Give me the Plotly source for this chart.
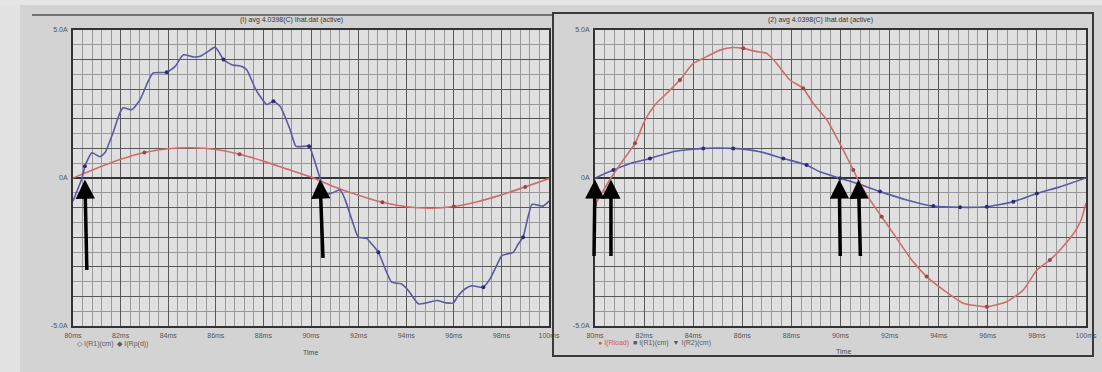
import plotly.graph_objects as go

W, H = 1102, 372

# ---- left panel: load current with ripple (blue) and source current (red) ----
t_blue_l = [80.0, 80.38, 80.50, 80.79, 81.13, 81.34, 81.68, 81.97, 82.11, 82.47,
            82.82, 83.16, 83.37, 83.94, 84.29, 84.64, 85.05, 85.34, 85.68, 85.97,
            86.11, 86.32, 86.67, 87.09, 87.30, 87.65, 87.86, 88.14, 88.42, 88.70,
            89.12, 89.37, 89.92, 90.13, 90.38, 90.66, 90.94, 91.22, 91.43, 91.71,
            91.99, 92.34, 92.55, 92.83, 93.18, 93.39, 93.81, 94.09, 94.51, 94.86,
            95.28, 95.70, 95.98, 96.19, 96.47, 96.75, 97.24, 97.52, 97.80, 98.01,
            98.22, 98.50, 98.71, 98.91, 99.29, 99.75, 100.0]
i_blue_l = [-0.78, 0.00, 0.40, 0.85, 0.72, 0.85, 1.53, 2.20, 2.37, 2.31,
            2.65, 3.27, 3.55, 3.57, 3.77, 4.16, 4.09, 4.11, 4.28, 4.42,
            4.28, 4.00, 3.83, 3.77, 3.66, 3.04, 2.76, 2.48, 2.59, 2.42,
            1.64, 1.07, 1.07, 0.63, 0.00, -0.55, -0.49, -0.40, -0.72, -1.39,
            -2.00, -2.04, -2.23, -2.51, -3.19, -3.52, -3.58, -3.80, -4.25, -4.22,
            -4.14, -4.22, -4.22, -3.97, -3.75, -3.64, -3.69, -3.41, -2.96, -2.63,
            -2.57, -2.51, -2.23, -2.00, -0.89, -0.95, -0.78]
mark_blue_l = [2, 13, 21, 28, 32, 43, 56, 63]

t_red_l = [80, 81, 82, 83, 84, 85, 86, 87, 88, 89, 90,
           91, 92, 93, 94, 95, 96, 97, 98, 99, 100]
i_red_l = [0.00, 0.33, 0.63, 0.86, 0.99, 1.02, 0.96, 0.80, 0.57, 0.30, 0.03,
           -0.30, -0.58, -0.82, -0.97, -1.02, -0.96, -0.80, -0.57, -0.30, -0.02]
mark_red_l = [3, 7, 13, 16, 19]

# ---- right panel: compensated line current (red) and reference (blue) ----
t_red_r = [80.0, 80.65, 81.15, 81.63, 82.04, 82.44, 82.92, 83.46, 84.00, 84.55,
           85.09, 85.63, 86.04, 86.59, 87.00, 87.40, 87.94, 88.48, 88.89, 89.45,
           89.90, 90.11, 90.52, 90.79, 91.20, 91.68, 92.29, 92.90, 93.51, 94.19,
           95.00, 95.96, 96.77, 97.45, 98.00, 98.53, 98.94, 99.51, 99.80, 100.0]
i_red_r = [-0.90, 0.00, 0.61, 1.17, 1.96, 2.47, 2.86, 3.31, 3.87, 4.10,
           4.32, 4.41, 4.38, 4.27, 4.21, 3.87, 3.31, 3.03, 2.52, 1.96,
           1.28, 0.95, 0.27, -0.18, -0.74, -1.31, -2.04, -2.77, -3.33, -3.78,
           -4.23, -4.35, -4.18, -3.78, -3.11, -2.77, -2.43, -1.86, -1.42, -0.84]
mark_red_r = [0, 3, 7, 12, 17, 22, 25, 28, 31, 35]

t_blue_r = [80.0, 80.75, 81.43, 82.24, 83.19, 84.41, 85.63, 86.72, 87.67, 88.62,
            89.16, 89.98, 90.66, 91.61, 92.70, 93.78, 94.87, 95.96, 97.04, 98.00,
            98.94, 100.0]
i_blue_r = [0.00, 0.27, 0.49, 0.66, 0.89, 1.00, 1.00, 0.89, 0.66, 0.44,
            0.21, -0.01, -0.18, -0.46, -0.74, -0.95, -0.99, -0.97, -0.80, -0.52,
            -0.30, 0.00]
mark_blue_r = [1, 3, 5, 6, 8, 9, 11, 13, 15, 16, 17, 18, 19]

# axis ticks
x_ticks = list(range(80, 101, 2))
x_labels = [f"{v}ms" for v in x_ticks]
y_ticks = list(range(-5, 6))
y_labels = ["-5.0A" if v == -5 else "5.0A" if v == 5 else "0A" if v == 0 else "" for v in y_ticks]

# zero crossings pointed out by arrows
arrows_l = [80.50, 90.38]
arrows_r = [80.0, 80.65, 89.95, 90.73]

BLUE = "#5a5aa4"
RED = "#cf6d6d"
FONT = "Liberation Sans"


def px(x):
    return x / W


def py(y):
    return 1 - y / H


fig = go.Figure()


def curve(t, v, color, marks, mcolor, xa, ya):
    fig.add_trace(go.Scatter(x=t, y=v, mode="lines", xaxis=xa, yaxis=ya,
                             line=dict(color=color, width=1.6, shape="spline", smoothing=0.5),
                             hoverinfo="skip", showlegend=False))
    fig.add_trace(go.Scatter(x=[t[i] for i in marks], y=[v[i] for i in marks],
                             mode="markers", xaxis=xa, yaxis=ya,
                             marker=dict(color=mcolor, size=4),
                             hoverinfo="skip", showlegend=False))


curve(t_red_l, i_red_l, RED, mark_red_l, "#9c4545", "x", "y")
curve(t_blue_l, i_blue_l, BLUE, mark_blue_l, "#2c2c6e", "x", "y")
curve(t_blue_r, i_blue_r, BLUE, mark_blue_r, "#2c2c6e", "x2", "y2")
curve(t_red_r, i_red_r, RED, mark_red_r, "#9c4545", "x2", "y2")

y_dom = [py(326), py(30)]


def xaxis(dom):
    return dict(domain=dom, range=[80, 100], tickvals=x_ticks, ticktext=x_labels,
                showgrid=True, gridcolor="#585858", gridwidth=1.3,
                minor=dict(tick0=80, dtick=0.4, showgrid=True, gridcolor="#989898", gridwidth=0.8),
                showline=True, linecolor="#333333", linewidth=2, mirror=True,
                zeroline=False, ticks="", tickfont=dict(family=FONT, size=7, color="#555555"),
                ticklabelstandoff=2, fixedrange=True, automargin=False)


def yaxis(anchor):
    return dict(domain=y_dom, range=[-5, 5], anchor=anchor, tickvals=y_ticks, ticktext=y_labels,
                showgrid=True, gridcolor="#585858", gridwidth=1.3,
                minor=dict(tick0=0, dtick=0.5, showgrid=True, gridcolor="#989898", gridwidth=0.8),
                showline=True, linecolor="#333333", linewidth=2, mirror=True,
                zeroline=True, zerolinecolor="#333333", zerolinewidth=1.6,
                ticks="", tickfont=dict(family=FONT, size=7, color="#555555"),
                ticklabelstandoff=2, fixedrange=True, automargin=False)


fig.update_layout(
    width=W, height=H, margin=dict(l=0, r=0, t=0, b=0),
    paper_bgcolor="#d3d3d3", plot_bgcolor="#e0e0e0",
    xaxis=xaxis([px(73), px(549)]), yaxis=yaxis("x"),
    xaxis2=dict(xaxis([px(595), px(1086)]), anchor="y2"), yaxis2=yaxis("x2"),
)

shapes = [
    dict(type="rect", xref="paper", yref="paper", x0=0, x1=px(20), y0=0, y1=1,
         fillcolor="#e2e2e2", line=dict(width=0), layer="below"),
    dict(type="rect", xref="paper", yref="paper", x0=0, x1=1, y0=py(5), y1=1,
         fillcolor="#e6e6e6", line=dict(width=0), layer="below"),
    dict(type="line", xref="paper", yref="paper", x0=px(32), x1=px(553), y0=py(15), y1=py(15),
         line=dict(color="#555555", width=1.5)),
    dict(type="rect", xref="paper", yref="paper", x0=px(553), x1=px(1093), y0=py(356), y1=py(13),
         line=dict(color="#3a3a3a", width=2)),
]
fig.update_layout(shapes=shapes)

ann = []


def text(x, y, s, size=7, color="#4a4a4a"):
    ann.append(dict(x=px(x), y=py(y), xref="paper", yref="paper", text=s, showarrow=False,
                    font=dict(family=FONT, size=size, color=color), xanchor="center", yanchor="middle"))


text(291, 20, "(I) avg 4.0398(C) Ihat.dat (active)", 7, "#333333")
text(820, 20, "(2) avg 4.0398(C) Ihat.dat (active)", 7, "#333333")
text(311, 352, "Time")
text(843, 351, "Time")
ann.append(dict(x=px(75), y=py(344), xref="paper", yref="paper", showarrow=False,
                xanchor="left", yanchor="middle",
                text="◇ I(R1)(cm)  ◆ I(Rp(d))", font=dict(family=FONT, size=7, color="#5a5a5a")))
ann.append(dict(x=px(596), y=py(343), xref="paper", yref="paper", showarrow=False,
                xanchor="left", yanchor="middle",
                text="<span style='color:#c86060'>● I(Rload)</span>  ■ I(R1)(cm)  ▼ I(R2)(cm)",
                font=dict(family=FONT, size=7, color="#5a5a5a")))

for xa, ya, ts, tails in (("x", "y", arrows_l, [(2, 92), (3, 80)]),
                          ("x2", "y2", arrows_r, [(-1, 78), (0, 78), (1, 78), (2, 78)])):
    for t, (dx, dy) in zip(ts, tails):
        ann.append(dict(x=t, y=-0.05, xref=xa, yref=ya, text="", showarrow=True,
                        ax=dx, ay=dy, axref="pixel", ayref="pixel",
                        arrowhead=2, arrowsize=1.1, arrowwidth=3.5, arrowcolor="#000000",
                        standoff=0))

fig.update_layout(annotations=ann)

fig.write_html("out.html")
